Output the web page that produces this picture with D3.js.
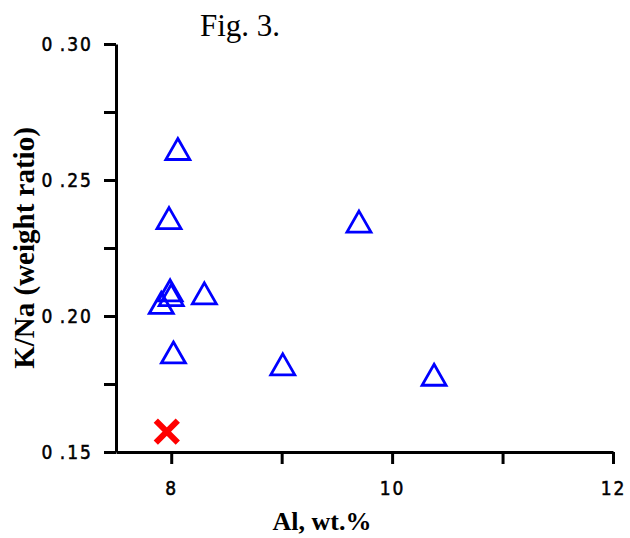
<!DOCTYPE html>
<html>
<head>
    <title>Fig. 3</title>
</head>
<body>
<style type="text/css">
    body {
        margin: 0;
        background: #fff;
    }

    #renderer {
        width: 630px;
        height: 538px;
        background: #fff;
        display: block;
    }
</style>
<script type="text/javascript" src="https://cdnjs.cloudflare.com/ajax/libs/d3/7.8.5/d3.min.js"></script>
<svg id='renderer'></svg>

<script type="text/javascript">
    // data
    var alValues = [8.06, 7.98, 7.99, 8.00, 7.91, 8.30, 8.02, 9.01, 10.38, 9.70];
    var knaValues = [0.2614, 0.2360, 0.2094, 0.2077, 0.2048, 0.2083, 0.1866, 0.1822, 0.1784, 0.2347];
    var crossAl = [7.96];
    var crossKna = [0.1575];

    var xTicks = [8, 9, 10, 11, 12];
    var xTickLabels = ['8', '', '10', '', '12'];
    var yTicks = [0.15, 0.175, 0.20, 0.225, 0.25, 0.275, 0.30];
    var yTickLabels = ['0\u2009.15', '', '0\u2009.20', '', '0\u2009.25', '', '0\u2009.30'];

    var root = d3.select('#renderer');

    var totalWidth = 630;
    var totalHeight = 538;

    var paddingLeft = 116;
    var paddingRight = 17;
    var paddingTop = 44;
    var paddingBottom = 86;

    var x = d3.scaleLinear()
        .domain([7.5, 12])
        .range([paddingLeft, totalWidth - paddingRight]);

    var y = d3.scaleLinear()
        .domain([0.15, 0.30])
        .range([totalHeight - paddingBottom, paddingTop]);

    // title
    root.append('text')
        .text('Fig. 3.')
        .attr('x', 200)
        .attr('y', 36)
        .attr('font-family', 'Liberation Serif')
        .attr('font-size', 31);

    // axes
    var xAxis = d3.axisBottom(x)
        .tickValues(xTicks)
        .tickSize(12)
        .tickSizeOuter(0)
        .tickPadding(14)
        .tickFormat(function (d, i) { return xTickLabels[i]; });

    var yAxis = d3.axisLeft(y)
        .tickValues(yTicks)
        .tickSize(12)
        .tickSizeOuter(0)
        .tickPadding(11)
        .tickFormat(function (d, i) { return yTickLabels[i]; });

    var gx = root.append('g')
        .attr('transform', 'translate(0,' + y(0.15) + ')')
        .call(xAxis);

    var gy = root.append('g')
        .attr('transform', 'translate(' + x(7.5) + ',0)')
        .call(yAxis);

    [gx, gy].forEach(function (g) {
        g.select('.domain').attr('stroke', '#000').attr('stroke-width', 3);
        g.selectAll('.tick line').attr('stroke', '#000').attr('stroke-width', 3);
        g.selectAll('.tick text')
            .attr('fill', '#000')
            .attr('font-family', 'DejaVu Sans Condensed, DejaVu Sans')
            .attr('font-size', 19)
            .attr('stroke', '#000')
            .attr('stroke-width', 0.5)
            .attr('letter-spacing', 2);
    });
    gx.selectAll('.tick text').attr('dy', '0.9em');

    // axis titles
    root.append('text')
        .text('Al, wt.%')
        .attr('x', 322)
        .attr('y', 530)
        .attr('text-anchor', 'middle')
        .attr('font-family', 'Liberation Serif')
        .attr('font-weight', 'bold')
        .attr('font-size', 26);

    root.append('text')
        .text('K/Na (weight ratio)')
        .attr('transform', 'translate(34,248) rotate(-90)')
        .attr('text-anchor', 'middle')
        .attr('font-family', 'Liberation Serif')
        .attr('font-weight', 'bold')
        .attr('font-size', 29);

    // open triangles
    var triW = 24, triH = 21;
    var triPath = 'M0,' + (-triH / 2) + 'L' + (triW / 2) + ',' + (triH / 2) + 'L' + (-triW / 2) + ',' + (triH / 2) + 'Z';

    for (var i = 0; i < alValues.length; i++) {
        root.append('path')
            .attr('d', triPath)
            .attr('transform', 'translate(' + x(alValues[i]) + ',' + y(knaValues[i]) + ')')
            .attr('fill', 'none')
            .attr('stroke', '#0000ff')
            .attr('stroke-width', 2.8);
    }

    // red cross
    var c = 11;
    for (var j = 0; j < crossAl.length; j++) {
        var cx = x(crossAl[j]), cy = y(crossKna[j]);
        root.append('path')
            .attr('d', 'M' + (cx - c) + ',' + (cy - c) + 'L' + (cx + c) + ',' + (cy + c) +
                'M' + (cx + c) + ',' + (cy - c) + 'L' + (cx - c) + ',' + (cy + c))
            .attr('stroke', '#ff0000')
            .attr('stroke-width', 6);
    }
</script>
</body>
</html>
